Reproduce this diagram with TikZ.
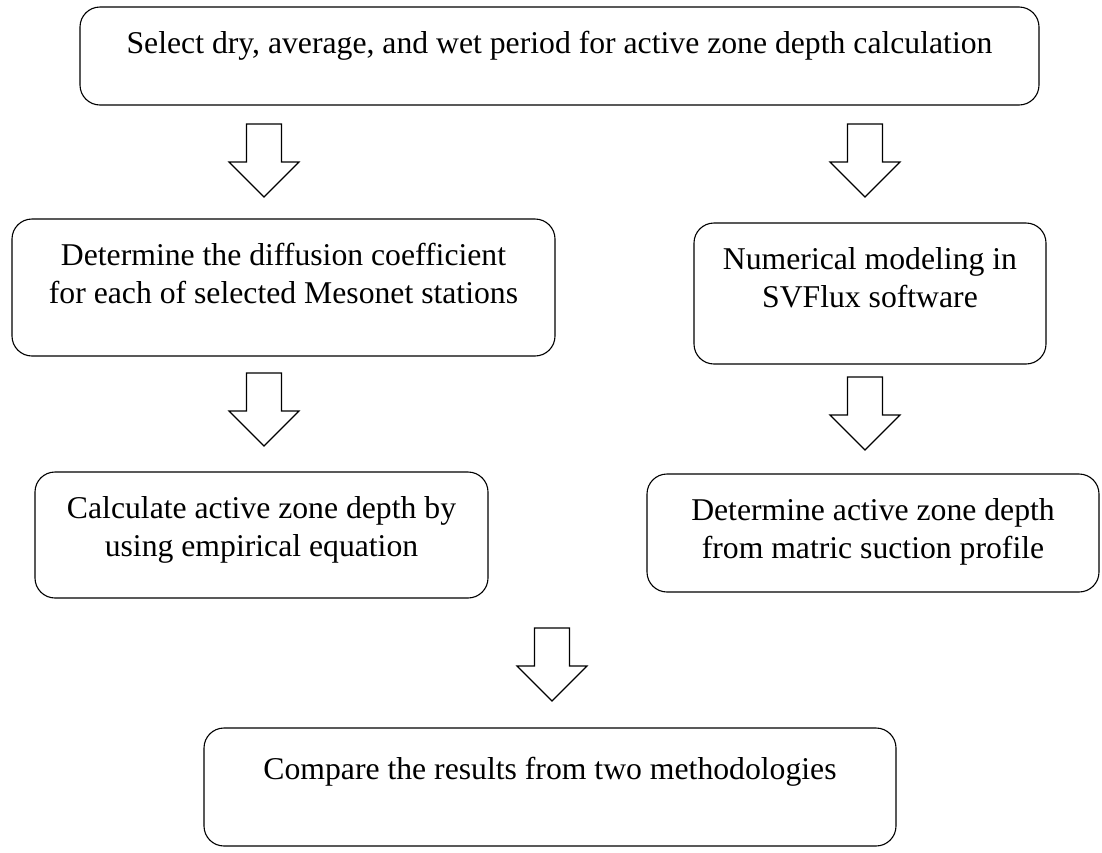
\documentclass[tikz,border=0pt]{standalone}
\usepackage{fontspec}
\setmainfont{Liberation Serif}
\begin{document}
\begin{tikzpicture}[x=1pt,y=-1pt,
  box/.style={draw=black, line width=1.1pt, rounded corners=20pt, inner sep=0pt},
  txt/.style={align=center, anchor=north, font=\fontsize{31.7}{38}\selectfont, inner sep=0pt},
  darrow/.pic={\draw[line width=1.1pt, line join=miter, fill=white] (-17.5,0) -- (17.5,0) -- (17.5,38) -- (35,38) -- (0,73) -- (-35,38) -- (-17.5,38) -- cycle;}]
\useasboundingbox (0,0) rectangle (1102,852);
% boxes
\node[box, minimum width=959pt, minimum height=98pt] (A) at (559.5,56) {};
\node[txt] (At) at (559.5,31) {Select dry, average, and wet period for active zone depth calculation};
\node[box, minimum width=543pt, minimum height=137pt] (B) at (283.5,287.5) {};
\node[txt] (Bt) at (283.5,243) {Determine the diffusion coefficient\\for each of selected Mesonet stations};
\node[box, minimum width=352pt, minimum height=141pt] (C) at (870,293.5) {};
\node[txt] (Ct) at (870,247) {Numerical modeling in\\SVFlux software};
\node[box, minimum width=453pt, minimum height=126pt] (D) at (261.5,535) {};
\node[txt] (Dt) at (261.5,496) {Calculate active zone depth by\\using empirical equation};
\node[box, minimum width=452pt, minimum height=118pt] (E) at (873,533) {};
\node[txt] (Et) at (873,498) {Determine active zone depth\\from matric suction profile};
\node[box, minimum width=692pt, minimum height=118pt] (F) at (550,787) {};
\node[txt] (Ft) at (550,757) {Compare the results from two methodologies};
% block arrows
\pic at (264,124) {darrow};
\pic at (865,124) {darrow};
\pic at (264,373) {darrow};
\pic at (865,377) {darrow};
\pic at (552,628) {darrow};
\end{tikzpicture}
\end{document}
